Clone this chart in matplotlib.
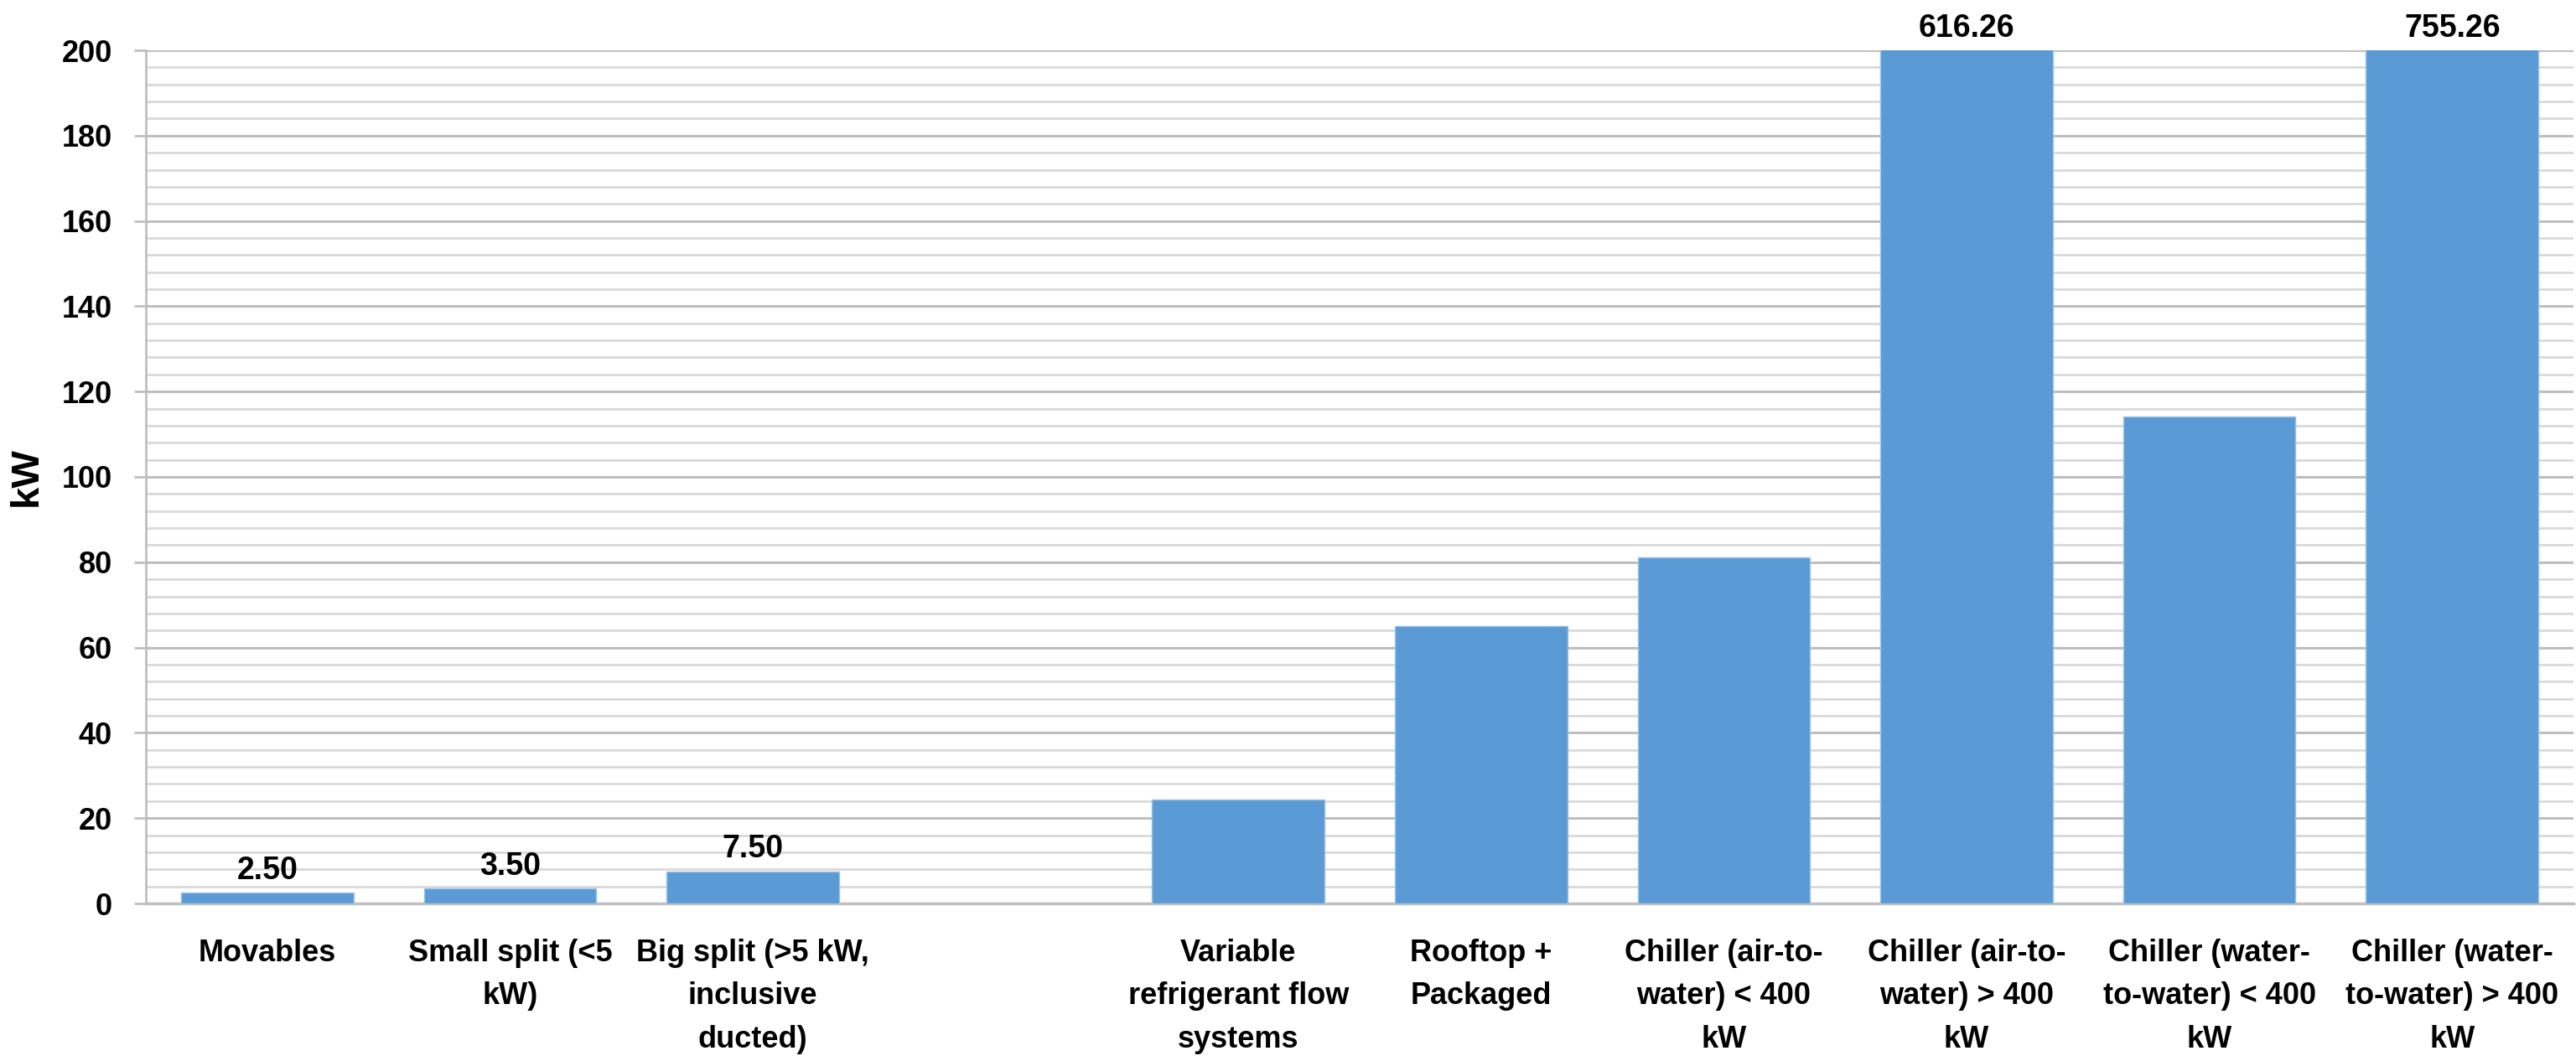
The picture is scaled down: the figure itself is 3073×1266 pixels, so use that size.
import numpy as np
import matplotlib
matplotlib.use("Agg")
import matplotlib.pyplot as plt
from matplotlib.ticker import MultipleLocator

plt.rcParams['font.family'] = ['Liberation Sans', 'DejaVu Sans']

categories = [
    "Movables",
    "Small split (<5\nkW)",
    "Big split (>5 kW,\ninclusive\nducted)",
    "",
    "Variable\nrefrigerant flow\nsystems",
    "Rooftop +\nPackaged",
    "Chiller (air-to-\nwater) < 400\nkW",
    "Chiller (air-to-\nwater) > 400\nkW",
    "Chiller (water-\nto-water) < 400\nkW",
    "Chiller (water-\nto-water) > 400\nkW",
]
values = [2.50, 3.50, 7.50, np.nan, 24.4, 65.0, 81.2, 616.26, 114.2, 755.26]
labelled = [True, True, True, False, False, False, False, True, False, True]

ymax = 200
bar_color = "#5B9BD5"

fig = plt.figure(figsize=(30.73, 12.66), dpi=100)
ax = fig.add_axes([174/3073, 1 - 1078/1266, 2896/3073, (1078 - 60)/1266])

x = np.arange(len(categories))
ax.bar(x, values, width=0.71, color=bar_color, edgecolor="#9DC3E6", linewidth=1.0, zorder=3)

for xi, v, show in zip(x, values, labelled):
    if show and not np.isnan(v):
        ax.annotate(f"{v:.2f}", xy=(xi, min(v, ymax)), xytext=(0, 6), textcoords="offset points",
                    ha="center", va="bottom", fontsize=27, fontweight="bold", annotation_clip=False,
                    clip_on=False)

ax.set_xlim(-0.5, len(categories) - 0.5)
ax.set_ylim(0, ymax)
ax.yaxis.set_major_locator(MultipleLocator(20))
ax.yaxis.set_minor_locator(MultipleLocator(4))
ax.grid(which="major", axis="y", color="#BFBFBF", linewidth=2.2, zorder=0)
ax.grid(which="minor", axis="y", color="#D9D9D9", linewidth=2.0, zorder=0)
ax.set_axisbelow(True)

ax.set_xticks(x)
ax.set_xticklabels(categories, fontsize=26, fontweight="bold", linespacing=1.62, va="top")
ax.tick_params(axis="x", length=0, pad=30)
ax.tick_params(axis="y", which="major", length=10, width=2, color="#BFBFBF", pad=19,
               labelsize=26)
ax.tick_params(axis="y", which="minor", length=0)
for lab in ax.get_yticklabels():
    lab.set_fontweight("bold")

for s in ["top", "right"]:
    ax.spines[s].set_visible(False)
ax.spines["left"].set_color("#BFBFBF")
ax.spines["left"].set_linewidth(2)
ax.spines["bottom"].set_color("#BFBFBF")
ax.spines["bottom"].set_linewidth(2.5)

ax.set_ylabel("kW", fontsize=34, fontweight="bold", labelpad=14)

fig.savefig("out.png", dpi=100, facecolor="white")
